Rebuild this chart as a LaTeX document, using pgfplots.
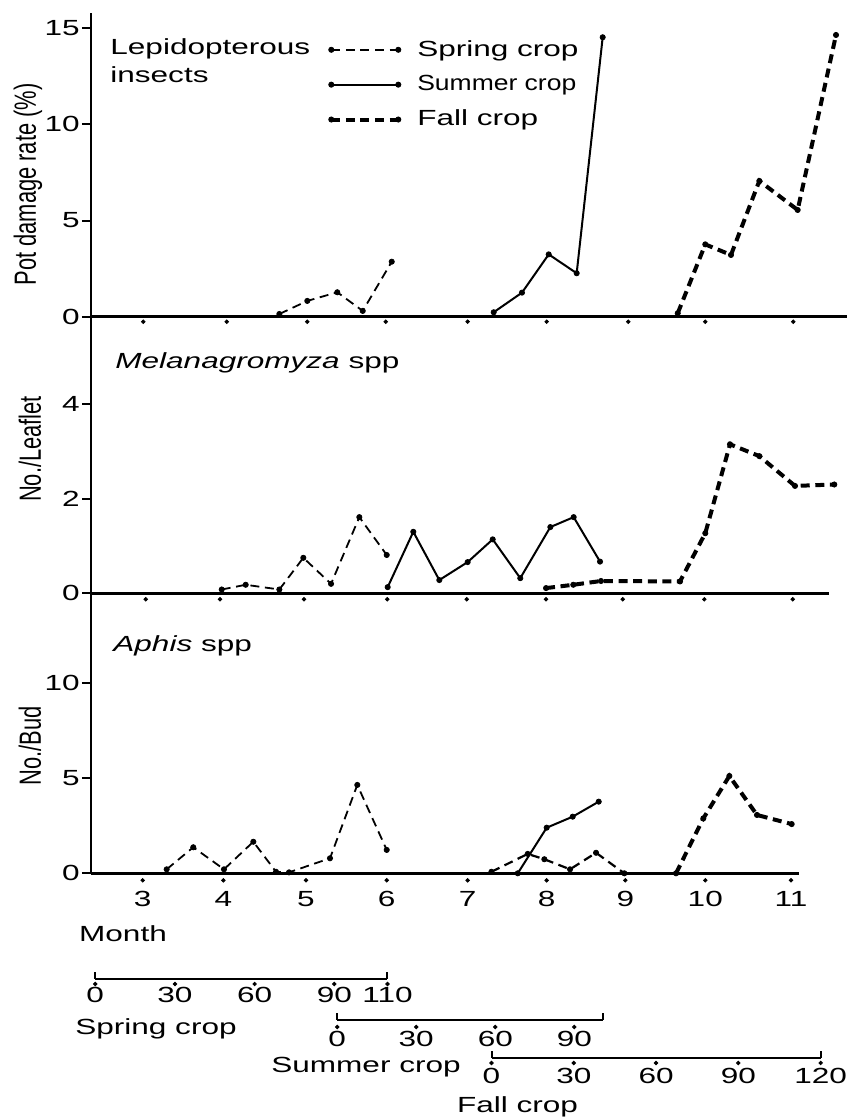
\documentclass[11pt,border=0pt]{standalone}
\usepackage{fontspec}
\setmainfont{Liberation Sans}[FakeStretch=1.44]
\newfontfamily\ylabfont{Liberation Sans}
\usepackage{graphicx}
\usepackage{pgfplots}
\pgfplotsset{compat=1.18}

\pgfplotsset{
  panel/.style={
    anchor=south west, x=40.52pt, xmin=2.362, ymin=0,
    axis lines*=left, axis line style={line width=1.3pt},
    xtick=\empty, tick align=outside, major tick length=4.5pt,
    tick style={line width=1pt, black},
    yticklabel style={inner sep=1pt},
    /pgf/number format/assume math mode=true,
    clip=false,
  },
  dotmark/.style={mark=*, mark size=1.3pt, mark options={solid, fill=black, line width=0.4pt}},
  spring/.style={black, line width=0.9pt, dash pattern=on 4.5pt off 2.8pt, dotmark},
  summer/.style={black, line width=1pt, dotmark},
  fall/.style={black, line width=2pt, dash pattern=on 4.5pt off 2.8pt, dotmark},
  fallthin/.style={black, line width=1.1pt, dash pattern=on 4.5pt off 2.8pt, dotmark},
  monthdots/.style={only marks, mark=*, mark size=0.9pt, black, forget plot},
  dayscale/.style={
    anchor=south west, hide y axis, axis x line*=bottom,
    ymin=0, ymax=1, y=1pt, xmin=0,
    axis line style={line width=1pt}, major tick length=0pt,
    xticklabel style={anchor=base, inner sep=0pt},
    extra x tick labels={},
    extra x tick style={major tick length=3.5pt, tick align=inside,
      tick style={line width=1pt, black}},
    /pgf/number format/assume math mode=true,
    clip=false,
  },
}

\begin{document}
\begin{tikzpicture}
\useasboundingbox (0,0) rectangle (428pt,559pt);

% Lepidopterous insects
\begin{axis}[panel, at={(45.5pt,400.65pt)}, y=9.615pt, xmax=11.687, ymax=15.79,
  ytick={0,5,10,15},
  legend style={draw=none, fill=none, at={(0.314,0.925)}, anchor=north west,
    inner sep=0pt, row sep=4pt, cells={anchor=west}},
  legend image code/.code={\draw[#1, mark repeat=1] plot coordinates {(0pt,0pt) (33.5pt,0pt)};
    \path (40pt,0pt);},
]
\addplot[spring] coordinates {(4.686,0.14) (5.031,0.82) (5.401,1.27) (5.715,0.30) (6.073,2.86)};
\addplot[summer] coordinates {(7.331,0.23) (7.680,1.25) (8.010,3.24) (8.355,2.26) (8.676,14.53)};
\addplot[fall] coordinates {(9.602,0.18) (9.942,3.76) (10.259,3.21) (10.609,7.06) (11.082,5.55) (11.555,14.65)};
\addplot[monthdots] coordinates {(3.007,-0.26) (4.037,-0.26) (5.031,-0.26) (5.999,-0.26)
  (7.010,-0.26) (7.985,-0.26) (8.992,-0.26) (9.942,-0.26) (11.028,-0.26)};
\legend{Spring crop, \scalebox{0.84}[1]{Summer crop}, Fall crop}
\end{axis}

% Melanagromyza spp
\begin{axis}[panel, at={(45.5pt,262.35pt)}, y=23.65pt, xmax=11.469, ymax=5.85,
  ytick={0,2,4}]
\addplot[spring] coordinates {(3.975,0.08) (4.271,0.18) (4.686,0.08) (4.982,0.75)
  (5.324,0.20) (5.673,1.61) (6.011,0.81)};
\addplot[summer] coordinates {(6.023,0.13) (6.339,1.30) (6.660,0.28) (7.010,0.66)
  (7.319,1.14) (7.659,0.32) (8.030,1.40) (8.318,1.61) (8.643,0.67)};
\addplot[fall] coordinates {(7.977,0.11) (8.313,0.18) (8.655,0.26) (9.630,0.25)
  (9.942,1.27) (10.247,3.15) (10.609,2.90) (11.049,2.27) (11.534,2.30)};
\addplot[monthdots] coordinates {(3.037,-0.127) (3.954,-0.127) (4.990,-0.127) (6.018,-0.127)
  (6.998,-0.127) (7.977,-0.127) (8.923,-0.127) (9.930,-0.127) (11.021,-0.127)};
\end{axis}

% Aphis spp
\begin{axis}[panel, at={(45.5pt,122.35pt)}, y=9.5pt, xmax=11.099, ymax=14.74,
  ytick={0,5,10},
  xtick={3.0,3.995,5.015,6.011,7.010,7.985,8.955,9.942,11.0},
  xticklabels={3,4,5,6,7,8,9,10,11},
  xtick style={draw=none},
  xticklabel style={anchor=base, inner sep=0pt, yshift=-12pt},
]
\addplot[spring] coordinates {(3.296,0.21) (3.624,1.37) (4.003,0.21) (4.365,1.66)
  (4.645,0.08) (4.806,0.05) (5.311,0.79) (5.648,4.65) (6.011,1.23)};
\addplot[summer] coordinates {(7.628,0.0) (7.985,2.40) (8.306,2.98) (8.627,3.77)};
\addplot[fallthin] coordinates {(7.303,0.08) (7.751,1.02) (7.956,0.74) (8.273,0.21)
  (8.594,1.08) (8.943,0.0)};
\addplot[fall] coordinates {(9.581,0.0) (9.918,2.89) (10.239,5.12) (10.580,3.07) (11.008,2.59)};
\addplot[monthdots] coordinates {(3.0,-0.37) (3.995,-0.37) (5.015,-0.37) (6.011,-0.37)
  (7.010,-0.37) (7.985,-0.37) (8.955,-0.37) (9.942,-0.37) (11.0,-0.37)};
\end{axis}

% day scales
\begin{axis}[dayscale, at={(47.6pt,69.5pt)}, x=1.3285pt, xmax=110,
  xtick={0,30,60,90,110}, extra x ticks={0,110},
  xticklabel style={yshift=-12pt}]
\addplot[monthdots] coordinates {(0,-2.5) (30,-2.5) (60,-2.5) (90,-2.5) (110,-2.5)};
\end{axis}
\begin{axis}[dayscale, at={(168.6pt,49pt)}, x=1.31735pt, xmax=101,
  xtick={0,30,60,90}, extra x ticks={0,101},
  xticklabel style={yshift=-13.35pt}]
\addplot[monthdots] coordinates {(0,-3.5) (30,-3.5) (60,-3.5) (90,-3.5)};
\end{axis}
\begin{axis}[dayscale, at={(245.75pt,30pt)}, x=1.37135pt, xmax=120,
  xtick={0,30,60,90,120}, extra x ticks={0,120},
  xticklabel style={yshift=-13pt}]
\addplot[monthdots] coordinates {(0,-2.5) (30,-2.5) (60,-2.5) (90,-2.5) (120,-2.5)};
\end{axis}

\begin{scope}[yshift=559pt, x=0.5pt, y=-0.5pt]
\node[anchor=base west, inner sep=0pt] at (110,55) {Lepidopterous};
\node[anchor=base west, inner sep=0pt] at (110,82.7) {insects};
\node[anchor=base west, inner sep=0pt] at (115,368.3) {\textit{Melanagromyza} spp};
\node[anchor=base west, inner sep=0pt] at (113,651.7) {\textit{Aphis} spp};
\node[rotate=90, inner sep=0pt] at (28,184.5) {\scalebox{1}[1.4]{\ylabfont Pot damage rate (\%)}};
\node[rotate=90, inner sep=0pt] at (30,449) {\scalebox{1}[1.4]{\ylabfont No./Leaflet}};
\node[rotate=90, inner sep=0pt] at (30,746) {\scalebox{1}[1.4]{\ylabfont No./Bud}};
\node[anchor=base, inner sep=0pt] at (123,941.7) {Month};
\node[anchor=base, inner sep=0pt] at (156,1035) {Spring crop};
\node[anchor=base, inner sep=0pt] at (366,1073) {Summer crop};
\node[anchor=base, inner sep=0pt] at (517.5,1113) {Fall crop};
\end{scope}
\end{tikzpicture}
\end{document}
